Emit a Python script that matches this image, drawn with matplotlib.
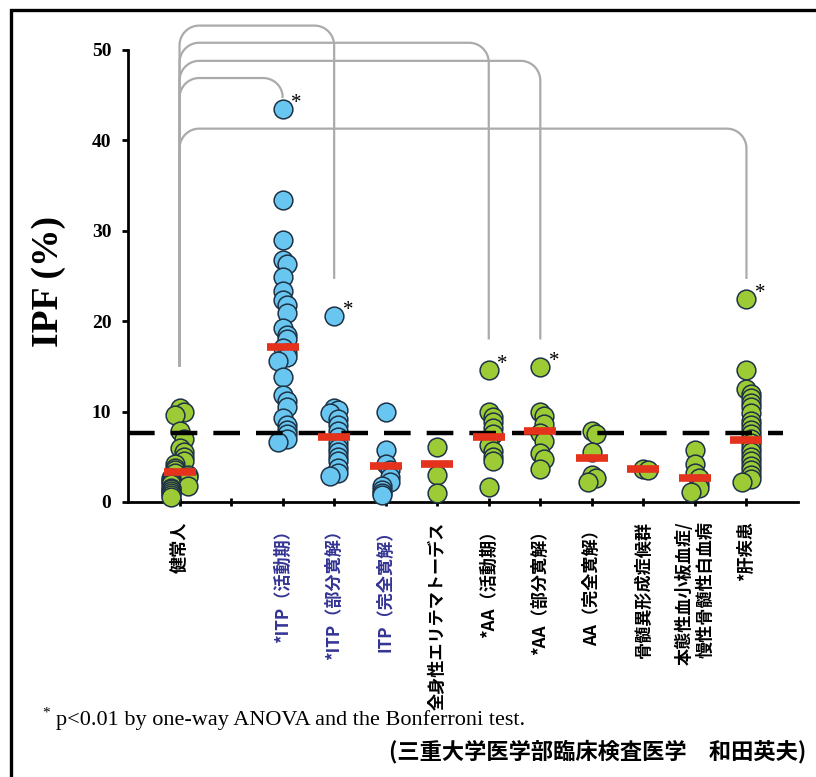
# -*- coding: utf-8 -*-

import numpy as np
import matplotlib.pyplot as plt
from matplotlib.patches import Rectangle

# データ
categories = ["健常人", "", "*ITP（活動期）", "*ITP（部分寛解）", "ITP（完全寛解）",
              "全身性エリテマトーデス", "*AA（活動期）", "*AA（部分寛解）", "AA（完全寛解）",
              "骨髄異形成症候群", "本態性血小板血症/\n慢性骨髄性白血病", "*肝疾患"]

healthy = [10.4, 10.0, 9.6, 7.8, 7.0, 6.0, 5.5, 5.0, 4.5, 4.2, 3.8, 3.5, 3.2, 3.0,
           2.8, 2.6, 2.4, 2.2, 2.0, 1.8, 1.6, 1.4, 1.2, 1.0, 0.8, 0.6]
itp_active = [43.5, 33.4, 29.0, 26.8, 26.3, 24.9, 23.3, 22.3, 21.8, 20.9, 19.2, 18.5,
              18.0, 17.0, 16.5, 16.0, 15.6, 13.8, 11.8, 11.2, 10.5, 9.3, 8.5, 8.0,
              7.5, 7.0, 6.6]
itp_partial = [20.6, 10.4, 10.2, 9.8, 9.2, 8.5, 7.8, 7.2, 6.5, 6.0, 5.5, 5.0, 4.5,
               3.8, 3.2, 2.9]
itp_complete = [10.0, 5.8, 4.2, 3.5, 2.8, 2.2, 1.8, 1.3, 1.0, 0.8]
sle = [6.1, 3.0, 1.0]
aa_active = [14.6, 10.0, 9.4, 8.8, 8.2, 7.5, 6.3, 5.6, 5.0, 4.5, 1.7]
aa_partial = [14.9, 10.0, 9.5, 8.6, 7.6, 6.7, 5.4, 4.8, 3.6]
aa_complete = [7.8, 7.5, 5.5, 3.0, 2.6, 2.2]
mds = [3.7, 3.5]
et_cml = [5.7, 4.2, 3.2, 2.6, 2.0, 1.5, 1.1]
liver = [22.5, 14.6, 12.5, 12.0, 11.5, 11.0, 10.5, 9.8, 9.0, 8.5, 8.0, 7.5, 7.0,
         6.5, 6.0, 5.5, 5.0, 4.5, 4.0, 3.5, 3.0, 2.5, 2.2]

groups = [healthy, None, itp_active, itp_partial, itp_complete, sle, aa_active,
          aa_partial, aa_complete, mds, et_cml, liver]
means = [3.3, None, 17.1, 7.2, 4.0, 4.2, 7.2, 7.8, 4.9, 3.6, 2.7, 6.9]
is_itp = [False, False, True, True, True, False, False, False, False, False, False, False]
significant = [2, 3, 6, 7, 11]

cutoff = 7.6          # 基準値
bracket_base = 15.1   # 健常人側の縦線の下端
# (対象カテゴリ, 横線の高さ, 縦線の下端)
brackets = [(3, 52.7, 24.8), (6, 50.8, 18.1), (7, 48.8, 18.1),
            (2, 46.9, 44.8), (11, 41.3, 24.8)]

GREEN = "#9DCB35"
BLUE = "#68C6F0"
EDGE = "#1E3246"
RED = "#E5321C"
GRAY = "#ABABAB"
JP = ["Noto Sans CJK JP", "DejaVu Sans"]
SERIF = ["Liberation Serif", "DejaVu Serif"]


def spread(vals, step=0.08, near=1.0):
    """重なった点を左右に少しずらす"""
    xs = []
    for i, v in enumerate(vals):
        n = sum(1 for w in vals[:i] if abs(w - v) < near)
        k = min((n + 1) // 2, 2)
        sign = 1 if n % 2 else -1
        xs.append(k * step * sign)
    return np.array(xs)


def bracket(ax, x0, y0, x1, y1, h, rx=0.38, ry=2.2):
    t = np.linspace(0, np.pi / 2, 20)
    ry_r = min(ry, h - y1)
    lx = x0 + rx - rx * np.cos(t)
    ly = h - ry + ry * np.sin(t)
    rxs = x1 - rx + rx * np.sin(t)
    rys = h - ry_r + ry_r * np.cos(t)
    xs = np.concatenate([[x0], lx, rxs, [x1]])
    ys = np.concatenate([[y0], ly, rys, [y1]])
    ax.plot(xs, ys, color=GRAY, linewidth=1.6, clip_on=False, zorder=1)


def main():
    fig = plt.figure(figsize=(8.16, 7.77), dpi=100)
    ax = fig.add_axes([128 / 816, 275 / 777, 670 / 816, 452 / 777])

    # 枠線
    fig.patches.append(Rectangle((11 / 816, -0.05), 1.0, 1.05 - 10 / 777,
                                 transform=fig.transFigure, fill=False,
                                 edgecolor="black", linewidth=2.4))

    # 点
    for pos, vals in enumerate(groups):
        if vals is None:
            continue
        color = BLUE if is_itp[pos] else GREEN
        ax.scatter(pos + spread(vals), vals, s=13.5 ** 2, color=color,
                   edgecolors=EDGE, linewidths=1.1, zorder=3, clip_on=False)

    # 平均値
    for pos, m in enumerate(means):
        if m is None:
            continue
        ax.hlines(m, pos - 0.31, pos + 0.31, color=RED, linewidth=5.5, zorder=5)

    # 基準線
    ax.hlines(cutoff, -1, 11.7, color="black", linewidth=3.2,
              linestyles=(0, (6, 3.6)), zorder=4)

    # 有意差の線
    for target, h, end in brackets:
        bracket(ax, 0, bracket_base, target, end, h)

    # アスタリスク
    for pos in significant:
        top = max(groups[pos])
        ax.annotate("*", (pos, top), xytext=(10, 4), textcoords="offset points",
                    fontsize=15, family=SERIF, ha="center", va="center")

    # 軸
    ax.set_xlim(-1, 12)
    ax.set_ylim(0, 50)
    ax.spines["right"].set_visible(False)
    ax.spines["top"].set_visible(False)
    ax.spines["left"].set_linewidth(2)
    ax.spines["bottom"].set_linewidth(2)

    ax.set_yticks([0, 10, 20, 30, 40, 50])
    ax.tick_params(axis="y", direction="out", length=4, width=2, pad=8)
    for lab in ax.get_yticklabels():
        lab.set_fontfamily(SERIF)
        lab.set_fontweight("bold")
        lab.set_fontsize(14)

    ax.set_xticks(range(len(categories)))
    ax.set_xticklabels(categories, rotation=90, va="top", ha="center")
    ax.tick_params(axis="x", direction="inout", length=6, width=2, pad=11)
    for i, lab in enumerate(ax.get_xticklabels()):
        lab.set_fontfamily(JP)
        lab.set_fontweight("bold")
        lab.set_fontsize(12.3)
        lab.set_multialignment("right")
        lab.set_color("#343494" if is_itp[i] else "black")

    fig.text(48 / 816, 1 - 282 / 777, "IPF (%)", rotation=90, ha="center",
             va="center", fontsize=27, fontweight="bold", family=SERIF)

    # 注釈
    fig.text(42 / 816, 1 - 713 / 777, "*", fontsize=11, family=SERIF,
             ha="left", va="center")
    fig.text(56 / 816, 1 - 720 / 777,
             "p<0.01 by one-way ANOVA and the Bonferroni test.",
             fontsize=16, family=SERIF, ha="left", va="center")
    fig.text(806 / 816, 1 - 752 / 777, "(三重大学医学部臨床検査医学\u3000和田英夫)",
             fontsize=16, fontweight="bold", family=JP, ha="right", va="center")

    fig.savefig("out.png", dpi=100)


if __name__ == '__main__':
    main()
